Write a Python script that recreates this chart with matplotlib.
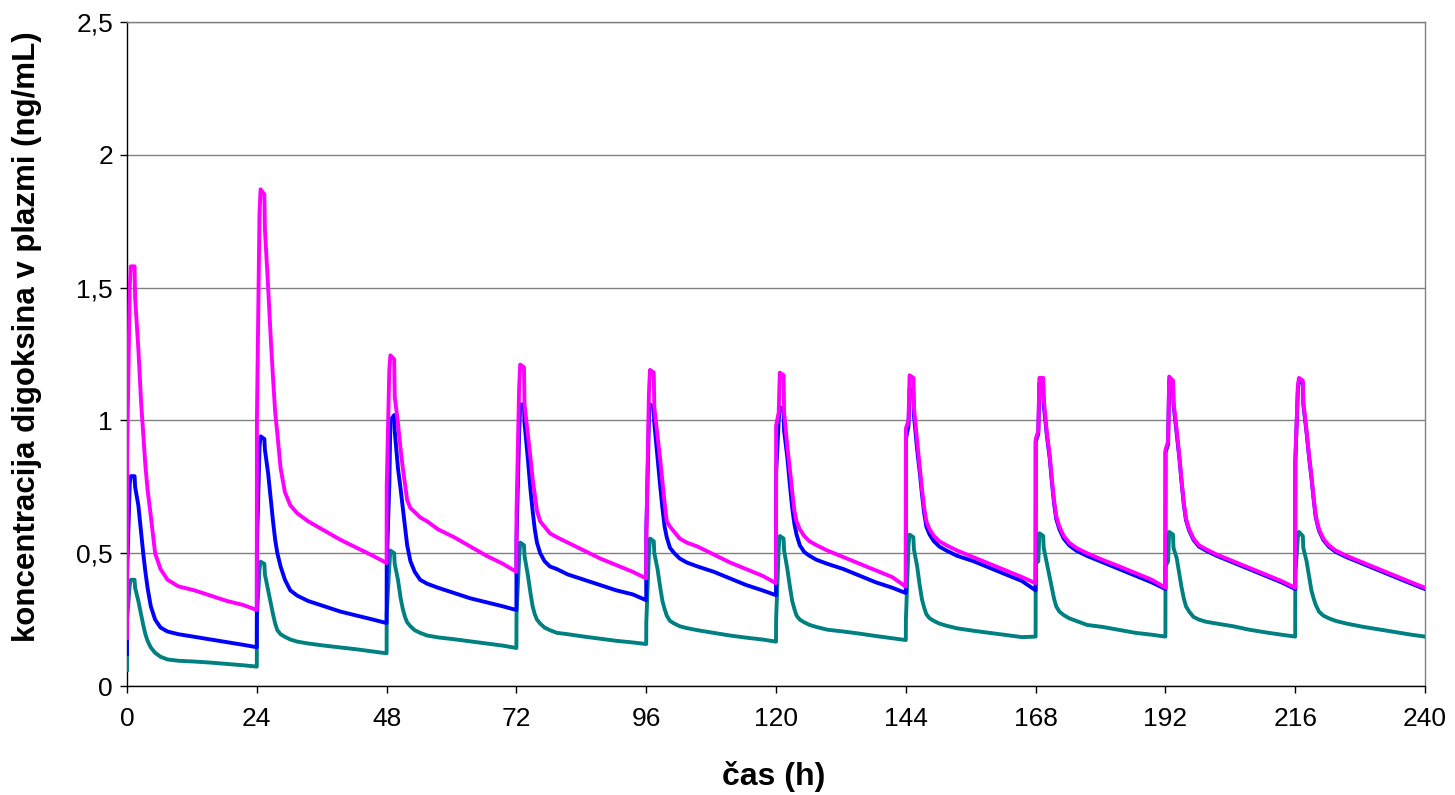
import numpy as np
import matplotlib
matplotlib.use("Agg")
import matplotlib.pyplot as plt

# Dose times (h) and the sampled time offsets within each 24 h dosing interval
dose_times = [0, 24, 48, 72, 96, 120, 144, 168, 192, 216]
offsets = [0, 0.02, 0.5, 0.7, 1.4, 1.5, 2.1, 2.6, 3.0, 3.4, 3.8, 4.4, 5.2, 6.2, 7.5, 9.5, 12.5, 15.5, 18.5, 21.5]
t_end = 240

# Magenta series, one list per dosing interval (ng/mL)
mag_c0 = [0.18, 0.86, 1.50, 1.58, 1.58, 1.46, 1.27, 1.07, 0.95, 0.83, 0.74, 0.64, 0.50, 0.44, 0.40, 0.375, 0.36, 0.34, 0.32, 0.305]
mag_c1 = [0.286, 1.00, 1.78, 1.87, 1.85, 1.72, 1.50, 1.30, 1.16, 1.03, 0.95, 0.82, 0.73, 0.68, 0.65, 0.62, 0.585, 0.55, 0.52, 0.49]
mag_c2 = [0.463, 0.75, 1.19, 1.245, 1.23, 1.09, 0.99, 0.89, 0.82, 0.76, 0.70, 0.67, 0.655, 0.635, 0.62, 0.59, 0.56, 0.525, 0.49, 0.46]
mag_c3 = [0.43, 0.65, 1.12, 1.21, 1.20, 1.06, 0.95, 0.86, 0.78, 0.72, 0.66, 0.62, 0.60, 0.575, 0.56, 0.54, 0.51, 0.48, 0.455, 0.43]
mag_c4 = [0.405, 0.56, 1.10, 1.19, 1.18, 1.05, 0.94, 0.85, 0.77, 0.69, 0.62, 0.60, 0.58, 0.555, 0.54, 0.525, 0.495, 0.465, 0.44, 0.415]
mag_c5 = [0.387, 0.98, 1.03, 1.18, 1.17, 1.03, 0.90, 0.81, 0.73, 0.66, 0.62, 0.59, 0.565, 0.545, 0.53, 0.51, 0.485, 0.46, 0.435, 0.41]
mag_c6 = [0.374, 0.97, 1.00, 1.17, 1.16, 1.05, 0.92, 0.82, 0.74, 0.67, 0.62, 0.59, 0.565, 0.545, 0.53, 0.51, 0.485, 0.46, 0.435, 0.41]
mag_c7 = [0.387, 0.93, 0.96, 1.16, 1.16, 1.08, 0.95, 0.87, 0.78, 0.70, 0.64, 0.60, 0.565, 0.54, 0.52, 0.50, 0.474, 0.45, 0.425, 0.40]
mag_c8 = [0.37, 0.89, 0.92, 1.165, 1.15, 1.07, 0.96, 0.86, 0.77, 0.69, 0.63, 0.59, 0.555, 0.53, 0.515, 0.495, 0.47, 0.445, 0.42, 0.395]
mag_c9 = [0.37, 0.85, 1.13, 1.16, 1.15, 1.07, 0.96, 0.86, 0.79, 0.71, 0.64, 0.59, 0.555, 0.53, 0.51, 0.49, 0.465, 0.44, 0.415, 0.39]
mag_end = 0.37

# Blue series
blu_c0 = [0.12, 0.42, 0.76, 0.79, 0.79, 0.75, 0.68, 0.58, 0.50, 0.43, 0.37, 0.30, 0.25, 0.22, 0.205, 0.195, 0.185, 0.175, 0.165, 0.155]
blu_c1 = [0.146, 0.52, 0.90, 0.94, 0.93, 0.89, 0.80, 0.70, 0.62, 0.55, 0.50, 0.45, 0.40, 0.36, 0.34, 0.32, 0.30, 0.28, 0.265, 0.25]
blu_c2 = [0.237, 0.45, 0.76, 1.00, 1.02, 0.96, 0.82, 0.74, 0.67, 0.60, 0.53, 0.47, 0.43, 0.40, 0.385, 0.37, 0.35, 0.33, 0.315, 0.30]
blu_c3 = [0.286, 0.55, 0.95, 1.06, 1.06, 0.99, 0.86, 0.74, 0.66, 0.59, 0.54, 0.50, 0.47, 0.45, 0.44, 0.42, 0.40, 0.38, 0.36, 0.345]
blu_c4 = [0.323, 0.58, 1.00, 1.06, 1.05, 0.99, 0.86, 0.75, 0.67, 0.60, 0.56, 0.52, 0.50, 0.48, 0.465, 0.45, 0.43, 0.405, 0.38, 0.36]
blu_c5 = [0.342, 0.80, 1.00, 1.05, 1.04, 0.96, 0.86, 0.75, 0.67, 0.61, 0.57, 0.53, 0.505, 0.49, 0.475, 0.46, 0.44, 0.415, 0.39, 0.37]
blu_c6 = [0.35, 0.93, 0.98, 1.12, 1.11, 1.02, 0.89, 0.80, 0.72, 0.65, 0.60, 0.57, 0.545, 0.525, 0.51, 0.49, 0.47, 0.445, 0.42, 0.395]
blu_c7 = [0.36, 0.92, 0.95, 1.14, 1.13, 1.06, 0.94, 0.86, 0.77, 0.69, 0.63, 0.59, 0.555, 0.53, 0.51, 0.49, 0.465, 0.44, 0.415, 0.39]
blu_c8 = [0.365, 0.88, 0.91, 1.15, 1.14, 1.06, 0.95, 0.855, 0.765, 0.685, 0.625, 0.585, 0.55, 0.525, 0.51, 0.49, 0.465, 0.44, 0.415, 0.39]
blu_c9 = [0.365, 0.84, 1.12, 1.15, 1.14, 1.06, 0.955, 0.855, 0.785, 0.705, 0.635, 0.585, 0.55, 0.525, 0.505, 0.485, 0.46, 0.435, 0.41, 0.385]
blu_end = 0.365

# Teal series
tea_c0 = [0.06, 0.25, 0.38, 0.40, 0.40, 0.37, 0.32, 0.27, 0.23, 0.195, 0.17, 0.145, 0.125, 0.11, 0.10, 0.095, 0.092, 0.088, 0.083, 0.078]
tea_c1 = [0.073, 0.26, 0.44, 0.468, 0.46, 0.42, 0.36, 0.31, 0.27, 0.235, 0.21, 0.195, 0.185, 0.175, 0.167, 0.16, 0.152, 0.145, 0.138, 0.13]
tea_c2 = [0.123, 0.27, 0.45, 0.51, 0.50, 0.46, 0.40, 0.33, 0.29, 0.26, 0.24, 0.225, 0.21, 0.20, 0.19, 0.183, 0.176, 0.168, 0.16, 0.152]
tea_c3 = [0.143, 0.27, 0.48, 0.54, 0.53, 0.49, 0.42, 0.35, 0.30, 0.27, 0.25, 0.235, 0.22, 0.21, 0.20, 0.195, 0.186, 0.178, 0.17, 0.164]
tea_c4 = [0.158, 0.24, 0.50, 0.555, 0.545, 0.50, 0.44, 0.37, 0.32, 0.29, 0.265, 0.245, 0.235, 0.225, 0.218, 0.21, 0.20, 0.19, 0.182, 0.175]
tea_c5 = [0.167, 0.25, 0.52, 0.565, 0.555, 0.51, 0.44, 0.37, 0.32, 0.29, 0.265, 0.25, 0.24, 0.23, 0.222, 0.212, 0.205, 0.197, 0.188, 0.18]
tea_c6 = [0.173, 0.25, 0.53, 0.57, 0.56, 0.515, 0.45, 0.375, 0.325, 0.295, 0.27, 0.255, 0.245, 0.235, 0.227, 0.217, 0.208, 0.20, 0.192, 0.184]
tea_c7 = [0.186, 0.46, 0.47, 0.575, 0.565, 0.52, 0.46, 0.41, 0.37, 0.33, 0.30, 0.28, 0.267, 0.255, 0.245, 0.23, 0.222, 0.211, 0.20, 0.193]
tea_c8 = [0.186, 0.45, 0.47, 0.58, 0.57, 0.52, 0.48, 0.42, 0.37, 0.33, 0.30, 0.28, 0.26, 0.25, 0.242, 0.235, 0.225, 0.212, 0.202, 0.193]
tea_c9 = [0.186, 0.42, 0.56, 0.58, 0.565, 0.52, 0.47, 0.41, 0.36, 0.33, 0.305, 0.28, 0.265, 0.255, 0.245, 0.235, 0.223, 0.213, 0.203, 0.193]
tea_end = 0.186

y_ticks = [0, 0.5, 1, 1.5, 2, 2.5]
y_tick_labels = ["0", "0,5", "1", "1,5", "2", "2,5"]
x_ticks = [0, 24, 48, 72, 96, 120, 144, 168, 192, 216, 240]
x_label = "čas (h)"
y_label = "koncentracija digoksina v plazmi (ng/mL)"

mag_cycles = [mag_c0, mag_c1, mag_c2, mag_c3, mag_c4, mag_c5, mag_c6, mag_c7, mag_c8, mag_c9]
blu_cycles = [blu_c0, blu_c1, blu_c2, blu_c3, blu_c4, blu_c5, blu_c6, blu_c7, blu_c8, blu_c9]
tea_cycles = [tea_c0, tea_c1, tea_c2, tea_c3, tea_c4, tea_c5, tea_c6, tea_c7, tea_c8, tea_c9]


def build(cycles, end_val):
    t, c = [], []
    for d, vals in zip(dose_times, cycles):
        t.extend(d + o for o in offsets)
        c.extend(vals)
    t.append(t_end)
    c.append(end_val)
    return np.array(t), np.array(c)


plt.rcParams['font.family'] = ['Liberation Sans', 'DejaVu Sans']

fig = plt.figure(figsize=(14.55, 7.95), dpi=100)
ax = fig.add_axes([127 / 1455, 1 - 686 / 795, (1425 - 127) / 1455, (686 - 22) / 795])

for cycles, end_val, col in [(tea_cycles, tea_end, '#008080'),
                             (blu_cycles, blu_end, '#0000FF'),
                             (mag_cycles, mag_end, '#FF00FF')]:
    t, c = build(cycles, end_val)
    ax.plot(t, c, color=col, lw=2.8, solid_joinstyle='round', zorder=3)

ax.set_xlim(0, 240)
ax.set_ylim(0, 2.5)
ax.set_xticks(x_ticks)
ax.set_xticklabels([str(v) for v in x_ticks])
ax.set_yticks(y_ticks)
ax.set_yticklabels(y_tick_labels)
ax.yaxis.grid(True, color='#808080', lw=1.0)
ax.set_axisbelow(True)

for s in ['top', 'right']:
    ax.spines[s].set_color('#808080')
    ax.spines[s].set_linewidth(1.0)
for s in ['left', 'bottom']:
    ax.spines[s].set_color('black')
    ax.spines[s].set_linewidth(1.0)

ax.tick_params(axis='both', direction='out', length=5, width=1, labelsize=19, colors='black')
ax.tick_params(axis='y', pad=5)
ax.tick_params(axis='x', pad=10)

ax.set_xlabel(x_label, fontsize=23, fontweight='bold')
ax.set_ylabel(y_label, fontsize=22.5, fontweight='bold')
ax.xaxis.set_label_coords(0.4985, -0.113)
ax.yaxis.set_label_coords(-0.0655, 0.5256)

fig.savefig("out.png", dpi=100)
